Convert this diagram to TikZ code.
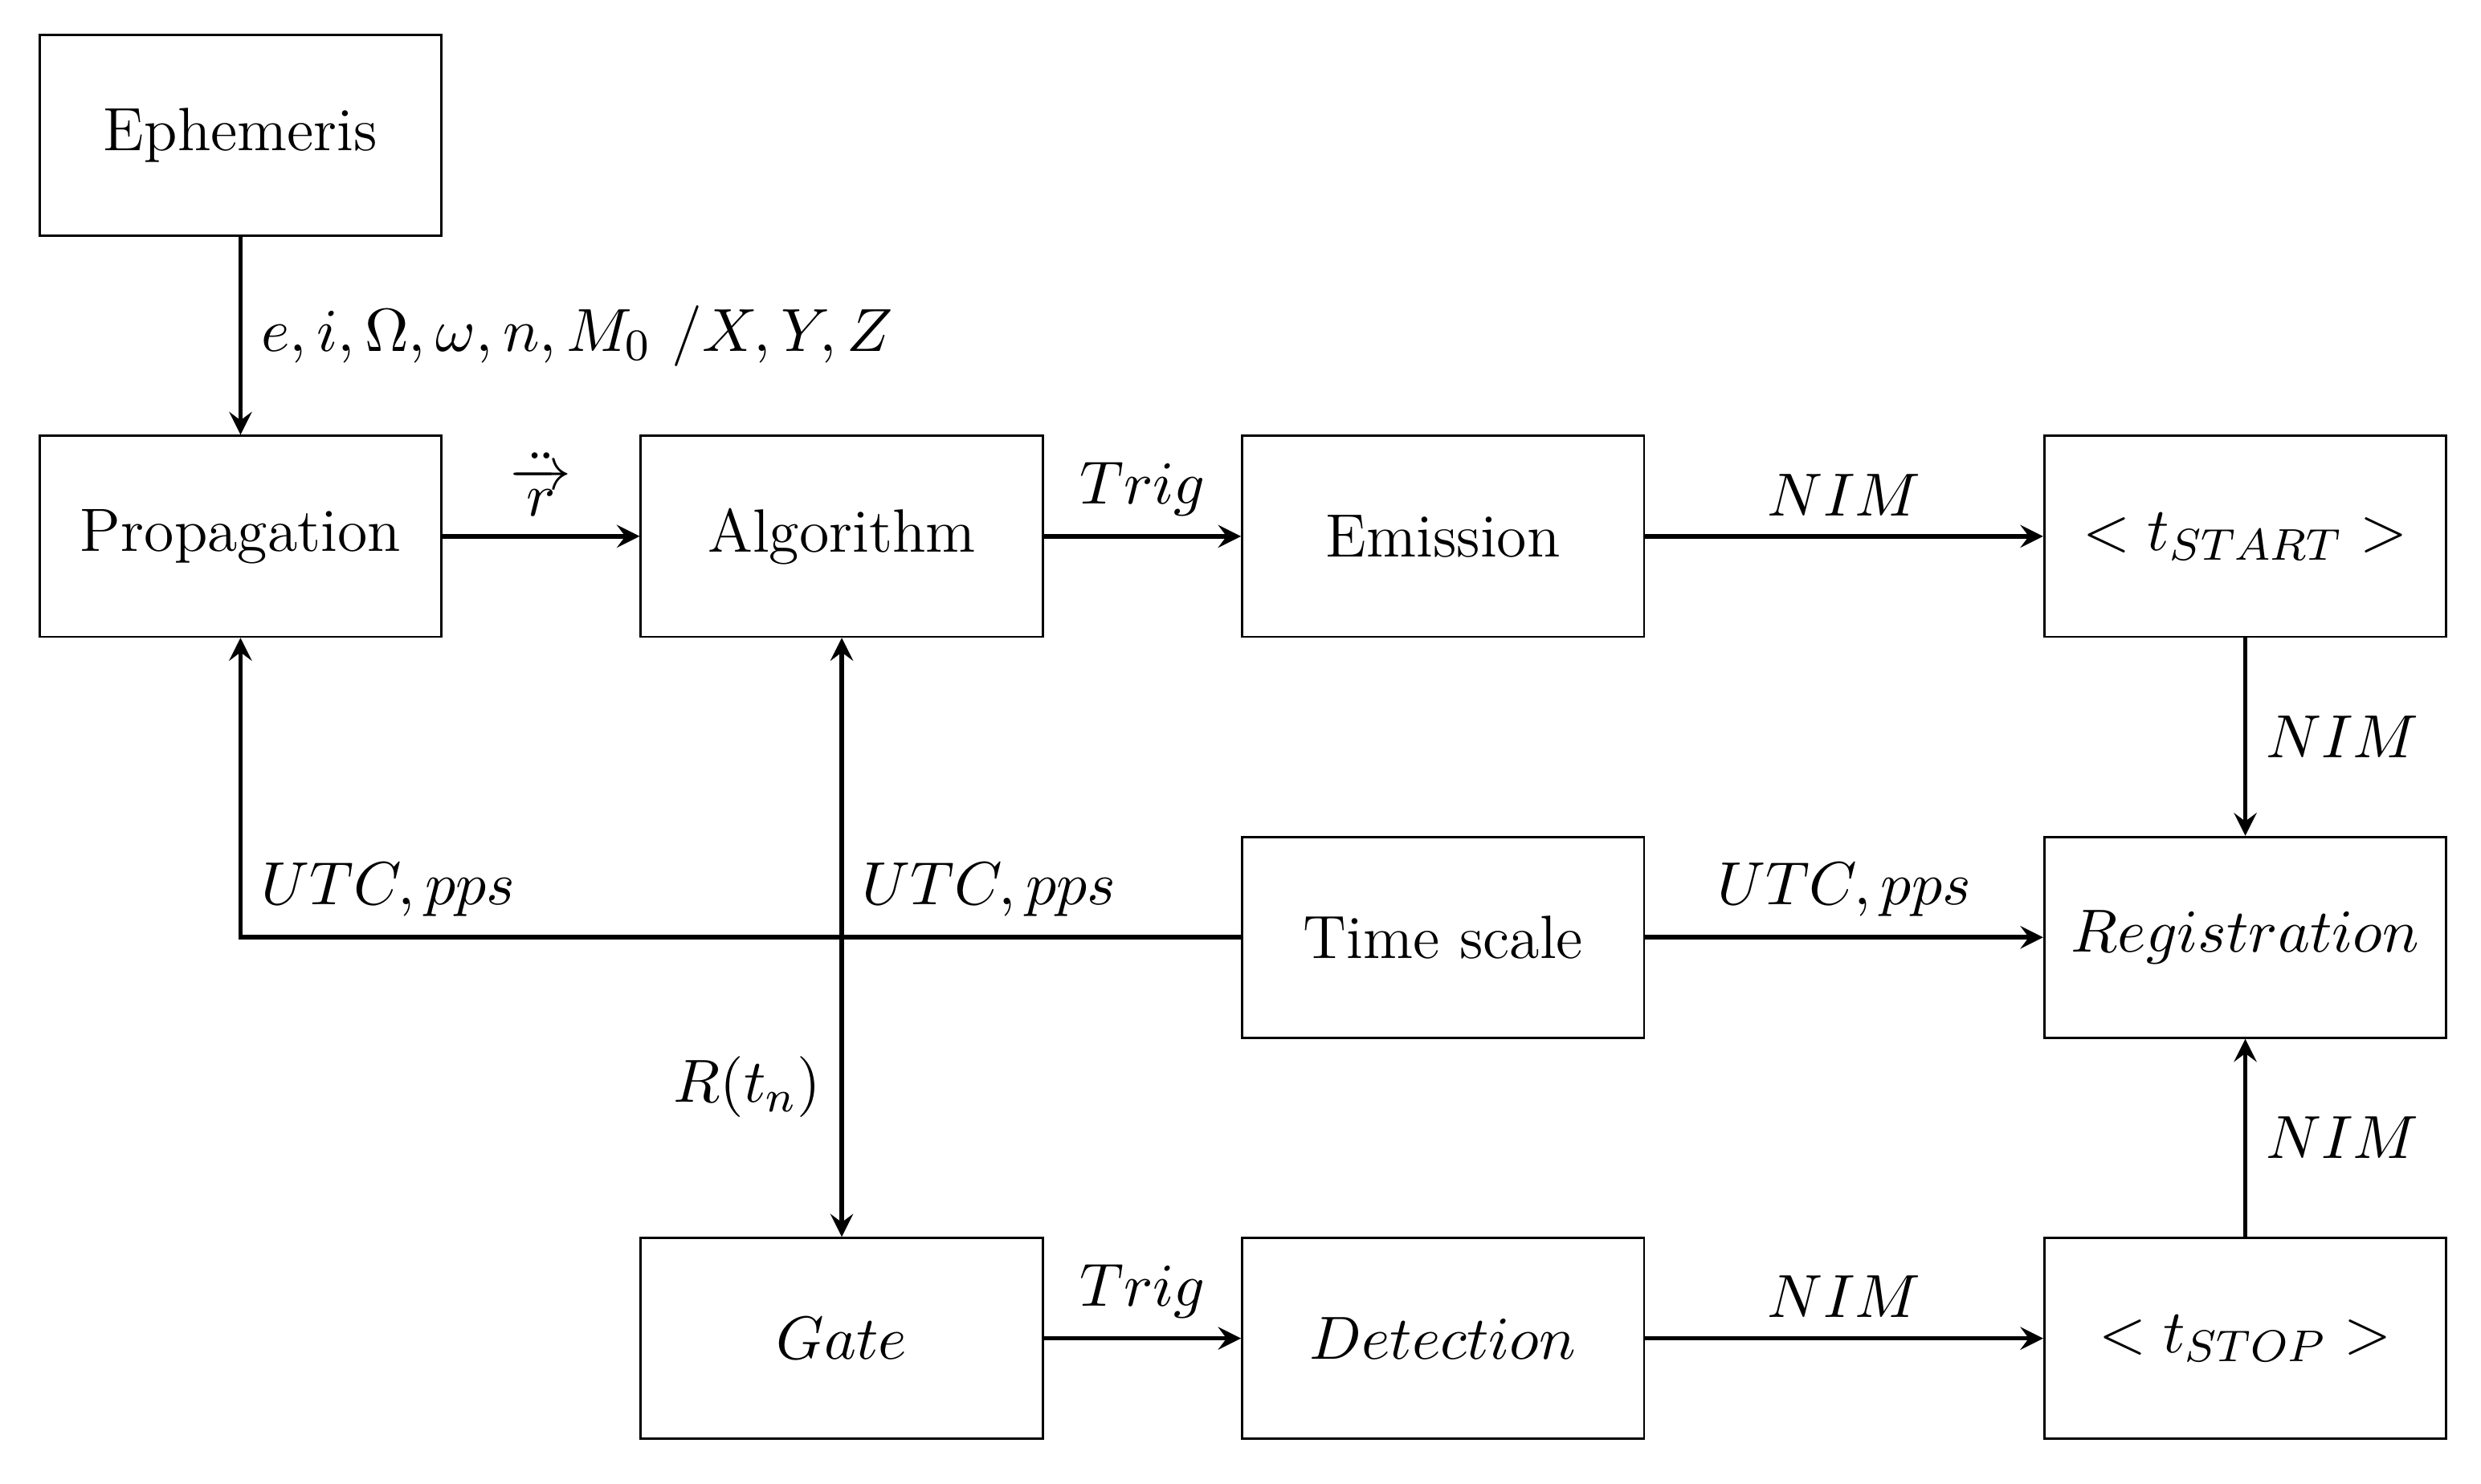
\documentclass[tikz,border=0pt]{standalone}
\usepackage{amsmath}
\usepackage{tikz}
\usetikzlibrary{positioning}
\begin{document}
\begin{tikzpicture}[
    txt/.style={font=\fontsize{11}{13}\selectfont},
    block/.style={draw, minimum width=2.54cm, minimum height=1.27cm, txt},
    flow/.style={-stealth, thick}]
    \useasboundingbox (0,0) rectangle (15.68,-9.38);
    \node[block] (ephem) at (1.52,-0.855) {Ephemeris};
    \node[block] (prop) at (1.52,-3.39) {Propagation};
    \node[block] (algo) at (5.32,-3.39) {Algorithm};
    \node[block] (emis) at (9.12,-3.39) {Emission};
    \node[block] (start) at (14.19,-3.39) {$<t_{START}>$};
    \node[block] (tscale) at (9.12,-5.925) {Time scale};
    \node[block] (reg) at (14.19,-5.925) {$Registration$};
    \node[block] (gate) at (5.32,-8.46) {$Gate$};
    \node[block] (detect) at (9.12,-8.46) {$Detection$};
    \node[block] (stop) at (14.19,-8.46) {$<t_{STOP}>$};
    \coordinate (corner) at (prop.center |- tscale.west);
    \coordinate (cross) at (algo.center |- tscale.west);

    \draw[flow] (ephem) -- node[right,txt]{$e,i,\Omega,\omega,n,M_0\ /X,Y,Z$} (prop);
    \draw[flow] (prop) -- node[above,txt]{$\ddot{\overrightarrow{r}}$} (algo);
    \draw[flow] (algo) -- node[above,txt]{$Trig$} (emis);
    \draw[flow] (emis) -- node[above,txt]{$NIM$} (start);
    \draw[flow] (start) -- node[right,txt]{$NIM$} (reg);
    \draw[flow] (tscale) -- node[above,txt]{$UTC,pps$} (reg);
    \draw[flow] (stop) -- node[right,txt]{$NIM$} (reg);
    \draw[flow] (gate) -- node[above,txt]{$Trig$} (detect);
    \draw[flow] (detect) -- node[above,txt]{$NIM$} (stop);
    \draw[flow] (tscale.west) -- (cross) node[above right,txt]{$UTC,pps$} -- (corner) node[above right,txt]{$UTC,pps$} -- (prop);
    \draw[stealth-stealth, thick] (algo) -- node[pos=0.75,left,txt]{$R(t_n)$} (gate);
\end{tikzpicture}
\end{document}
